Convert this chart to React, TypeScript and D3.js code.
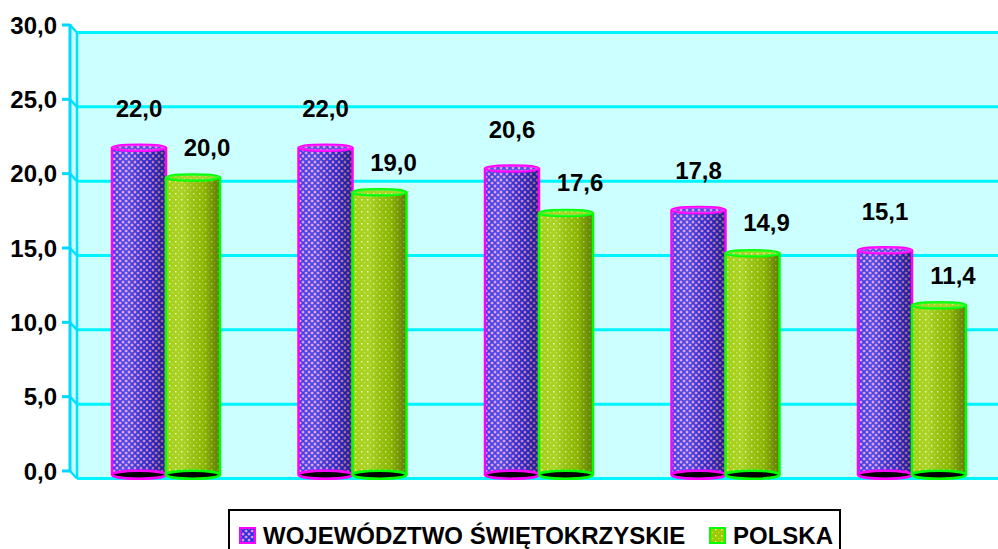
import React, { useEffect, useRef } from 'react'
import * as d3 from 'd3'

// categories have no visible labels on the x axis
const categories = ['1', '2', '3', '4', '5']
const seriesNames = ['WOJEWÓDZTWO ŚWIĘTOKRZYSKIE', 'POLSKA']
const swietokrzyskie = [22.0, 22.0, 20.6, 17.8, 15.1]
const polska = [20.0, 19.0, 17.6, 14.9, 11.4]
const yTicks = [0, 5, 10, 15, 20, 25, 30]

const width = 998
const height = 549

export default function App() {
  const ref = useRef<SVGSVGElement>(null)

  useEffect(() => {
    const svg = d3.select(ref.current)
    svg.selectAll('*').remove()

    const font = '"Liberation Sans", Arial, sans-serif'
    const depthX = 7
    const depthY = 7.5
    const axisX = 70
    const right = 998

    let y = d3.scaleLinear().domain([0, 30]).range([471, 25])
    let x = d3.scaleBand().domain(categories).range([72.75, 1005.25])
    let barW = 54

    const defs = svg.append('defs')

    // purple lattice pattern
    const p1 = defs.append('pattern').attr('id', 'patPurple')
      .attr('width', 6).attr('height', 6).attr('patternUnits', 'userSpaceOnUse')
    p1.append('rect').attr('width', 6).attr('height', 6).attr('fill', '#d88ccc')
    p1.append('path').attr('d', 'M0,0L6,6M6,0L0,6').attr('stroke', '#2a2ae8').attr('stroke-width', 1.7)
    p1.append('rect').attr('x', 0).attr('y', 2.4).attr('width', 1.2).attr('height', 1.2).attr('fill', '#f4a0d8')
    p1.append('rect').attr('x', 2.4).attr('y', 0).attr('width', 1.2).attr('height', 1.2).attr('fill', '#f4a0d8')

    // green dotted pattern
    const p2 = defs.append('pattern').attr('id', 'patGreen')
      .attr('width', 6).attr('height', 6).attr('patternUnits', 'userSpaceOnUse')
    p2.append('rect').attr('width', 6).attr('height', 6).attr('fill', '#9ccc00')
    p2.append('rect').attr('x', 1).attr('y', 1).attr('width', 1.5).attr('height', 1.5).attr('fill', '#e4f0a8')
    p2.append('rect').attr('x', 4).attr('y', 4).attr('width', 1.2).attr('height', 1.2).attr('fill', '#c8e070')

    // cylinder shading
    const g = defs.append('linearGradient').attr('id', 'shade').attr('x1', 0).attr('x2', 1).attr('y1', 0).attr('y2', 0)
    g.append('stop').attr('offset', 0).attr('stop-color', '#fff').attr('stop-opacity', 0.08)
    g.append('stop').attr('offset', 0.3).attr('stop-color', '#fff').attr('stop-opacity', 0.15)
    g.append('stop').attr('offset', 0.7).attr('stop-color', '#000').attr('stop-opacity', 0.1)
    g.append('stop').attr('offset', 1).attr('stop-color', '#000').attr('stop-opacity', 0.4)

    // walls
    svg.append('rect')
      .attr('x', axisX + depthX).attr('y', y(30) + depthY)
      .attr('width', right - axisX - depthX).attr('height', y(0) - y(30))
      .attr('fill', '#ccffff')
    svg.append('path')
      .attr('d', `M${axisX},${y(30)}L${axisX + depthX},${y(30) + depthY}L${axisX + depthX},${y(0) + depthY}L${axisX},${y(0)}Z`)
      .attr('fill', '#ccffff')

    // gridlines on back wall
    svg.selectAll('.grid').data(yTicks).enter().append('line')
      .attr('x1', axisX + depthX).attr('x2', right)
      .attr('y1', d => y(d) + depthY).attr('y2', d => y(d) + depthY)
      .attr('stroke', '#00f4ff').attr('stroke-width', 3)
    // diagonals on the side wall
    svg.selectAll('.diag').data(yTicks).enter().append('line')
      .attr('x1', axisX).attr('x2', axisX + depthX)
      .attr('y1', d => y(d)).attr('y2', d => y(d) + depthY)
      .attr('stroke', '#00e0ff').attr('stroke-width', 2.5)
    svg.append('line')
      .attr('x1', axisX + depthX).attr('x2', axisX + depthX)
      .attr('y1', y(30) + depthY).attr('y2', y(0) + depthY)
      .attr('stroke', '#00e0ff').attr('stroke-width', 2.5)

    // y axis
    svg.append('line')
      .attr('x1', axisX).attr('x2', axisX).attr('y1', y(30) - 1).attr('y2', y(0) + 1)
      .attr('stroke', '#00d8ff').attr('stroke-width', 3)
    svg.selectAll('.tick').data(yTicks).enter().append('line')
      .attr('x1', axisX - 8).attr('x2', axisX)
      .attr('y1', d => y(d)).attr('y2', d => y(d))
      .attr('stroke', '#00d8ff').attr('stroke-width', 3)
    svg.selectAll('.tickLabel').data(yTicks).enter().append('text')
      .attr('x', 57).attr('y', d => y(d))
      .attr('dy', '0.36em')
      .attr('text-anchor', 'end')
      .style('font-family', font).style('font-weight', 'bold').style('font-size', '24px')
      .text(d => d3.format('.1f')(d).replace('.', ','))

    const fmt = (v: number) => d3.format('.1f')(v).replace('.', ',')

    const series = [
      { values: swietokrzyskie, fill: 'url(#patPurple)', stroke: '#ff00ff', off: -1, labelDx: 0, labelDy: -27 },
      { values: polska, fill: 'url(#patGreen)', stroke: '#00ff00', off: 0, labelDx: 14, labelDy: -18 },
    ]

    const ry = 3
    categories.forEach((c, i) => {
      const center = (x(c) as number) + x.bandwidth() / 2
      series.forEach(s => {
        const v = s.values[i]
        const left = center + s.off * barW
        const cx = left + barW / 2
        const top = y(v) + depthY / 2
        const bottom = y(0) + depthY / 2
        const bar = svg.append('g')
        bar.append('rect').attr('x', left).attr('y', top).attr('width', barW).attr('height', bottom - top)
          .attr('fill', s.fill)
        bar.append('rect').attr('x', left).attr('y', top).attr('width', barW).attr('height', bottom - top)
          .attr('fill', 'url(#shade)')
        bar.append('line').attr('x1', left).attr('x2', left).attr('y1', top).attr('y2', bottom)
          .attr('stroke', s.stroke).attr('stroke-width', 2.5)
        bar.append('line').attr('x1', left + barW).attr('x2', left + barW).attr('y1', top).attr('y2', bottom)
          .attr('stroke', s.stroke).attr('stroke-width', 2.5)
        bar.append('ellipse').attr('cx', cx).attr('cy', bottom).attr('rx', barW / 2).attr('ry', 4)
          .attr('fill', '#000').attr('stroke', s.stroke).attr('stroke-width', 2.5)
        bar.append('ellipse').attr('cx', cx).attr('cy', top).attr('rx', barW / 2).attr('ry', ry)
          .attr('fill', s.fill).attr('stroke', s.stroke).attr('stroke-width', 2.5)
        bar.append('ellipse').attr('cx', cx).attr('cy', top).attr('rx', barW / 2).attr('ry', ry)
          .attr('fill', '#fff').attr('fill-opacity', 0.15)

        svg.append('text')
          .attr('x', cx + s.labelDx).attr('y', y(v) + s.labelDy)
          .attr('text-anchor', 'middle')
          .style('font-family', font).style('font-weight', 'bold').style('font-size', '24px')
          .text(fmt(v))
      })
    })

    // legend
    const lg = svg.append('g')
    lg.append('rect').attr('x', 229).attr('y', 510).attr('width', 611).attr('height', 60)
      .attr('fill', '#fff').attr('stroke', '#000').attr('stroke-width', 2)
    const items = [
      { name: seriesNames[0], fill: 'url(#patPurple)', stroke: '#ff00ff', x: 239 },
      { name: seriesNames[1], fill: 'url(#patGreen)', stroke: '#00ff00', x: 709 },
    ]
    items.forEach(it => {
      lg.append('rect').attr('x', it.x + 1).attr('y', 528).attr('width', 15).attr('height', 15)
        .attr('fill', it.fill).attr('stroke', it.stroke).attr('stroke-width', 2)
      lg.append('text').attr('x', it.x + 24).attr('y', 544)
        .style('font-family', font).style('font-weight', 'bold').style('font-size', '24px')
        .text(it.name)
    })
  }, [])

  return (
    <div style={{ position: 'absolute', left: 0, top: 0 }}>
      <svg ref={ref} width={width} height={height} style={{ display: 'block', background: '#fff' }} />
    </div>
  )
}
